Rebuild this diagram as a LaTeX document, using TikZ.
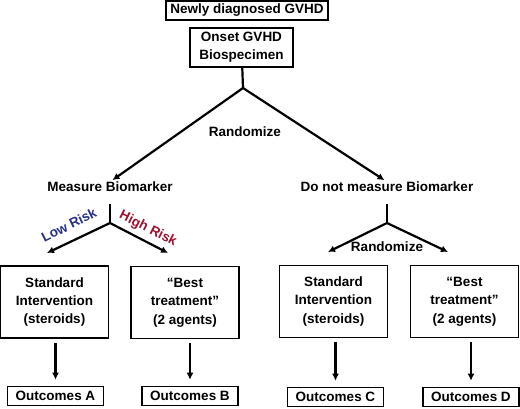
\documentclass[tikz,border=0pt]{standalone}
\usepackage{fontspec}
\setmainfont{Liberation Sans}
\usetikzlibrary{arrows.meta, positioning}
\definecolor{lowblue}{RGB}{38,48,138}
\definecolor{highred}{RGB}{158,18,48}

\begin{document}
\begin{tikzpicture}[x=1pt, y=-1pt,
  every node/.style={font=\fontsize{13.5}{18.3}\selectfont\bfseries, align=center, inner sep=0pt},
  box/.style={draw, line width=1.6pt, minimum width=108pt, minimum height=72pt},
  outbox/.style={draw, line width=1.6pt, minimum width=96pt, minimum height=19pt},
  link/.style={line width=2.2pt},
  >={Latex[length=7pt, width=7pt]}]
  \useasboundingbox (0,0) rectangle (520,409);

  \node (newly) [draw, line width=1.6pt, minimum width=162pt, minimum height=19pt] at (247,10.5) {Newly diagnosed GVHD};
  \node (onset) [draw, line width=1.6pt, minimum width=103pt, minimum height=39pt] at (241.5,47.5) {Onset GVHD\\Biospecimen};
  \coordinate (split) at (243,88);
  \node (rand) at (245,132) {Randomize};

  \node (measure) at (110,187) {Measure Biomarker};
  \node (nomeasure) at (387,187) {Do not measure Biomarker};
  \coordinate (lowsplit) at (110,223);
  \coordinate (nosplit) at (387,223);
  \coordinate (lowtip) at (47,253);
  \coordinate (hightip) at (168,253);
  \coordinate (stdtip) at (328,252);
  \coordinate (besttip) at (448,252);
  \node (low) [text=lowblue, rotate=26] at (69,225) {Low Risk};
  \node (high) [text=highred, rotate=-27] at (148,229) {High Risk};
  \node (rand2) at (387,247) {Randomize};

  \node (stdA) [box] at (54.5,302) {Standard\\Intervention\\(steroids)};
  \node (bestB) [box] at (185,302.5) {“Best\\treatment”\\(2 agents)};
  \node (stdC) [box] at (333.5,301.5) {Standard\\Intervention\\(steroids)};
  \node (bestD) [box] at (464.5,301.5) {“Best\\treatment”\\(2 agents)};

  \node (outA) [outbox] at (55.5,396) {Outcomes A};
  \node (outB) [outbox] at (190,396) {Outcomes B};
  \node (outC) [outbox] at (335.5,397) {Outcomes C};
  \node (outD) [outbox] at (471,397) {Outcomes D};

  \draw[link] (onset) -- (split);
  \draw[link, ->, shorten >=3pt] (split) -- (measure.north);
  \draw[link, ->, shorten >=3pt] (split) -- (nomeasure.north);
  \draw[link, shorten <=12pt] (measure.south) -- (lowsplit);
  \draw[link, shorten <=12pt] (nomeasure.south) -- (nosplit);
  \draw[link, ->] (lowsplit) -- (lowtip);
  \draw[link, ->] (lowsplit) -- (hightip);
  \draw[link, ->] (nosplit) -- (stdtip);
  \draw[link, ->] (nosplit) -- (besttip);
  \draw[link, ->, shorten <=4pt, shorten >=6pt] (outA.north |- stdA.south) -- (outA.north);
  \draw[link, ->, shorten <=4pt, shorten >=6pt] (outB.north |- bestB.south) -- (outB.north);
  \draw[link, ->, shorten <=4pt, shorten >=6pt] (outC.north |- stdC.south) -- (outC.north);
  \draw[link, ->, shorten <=4pt, shorten >=6pt] (outD.north |- bestD.south) -- (outD.north);
\end{tikzpicture}
\end{document}
